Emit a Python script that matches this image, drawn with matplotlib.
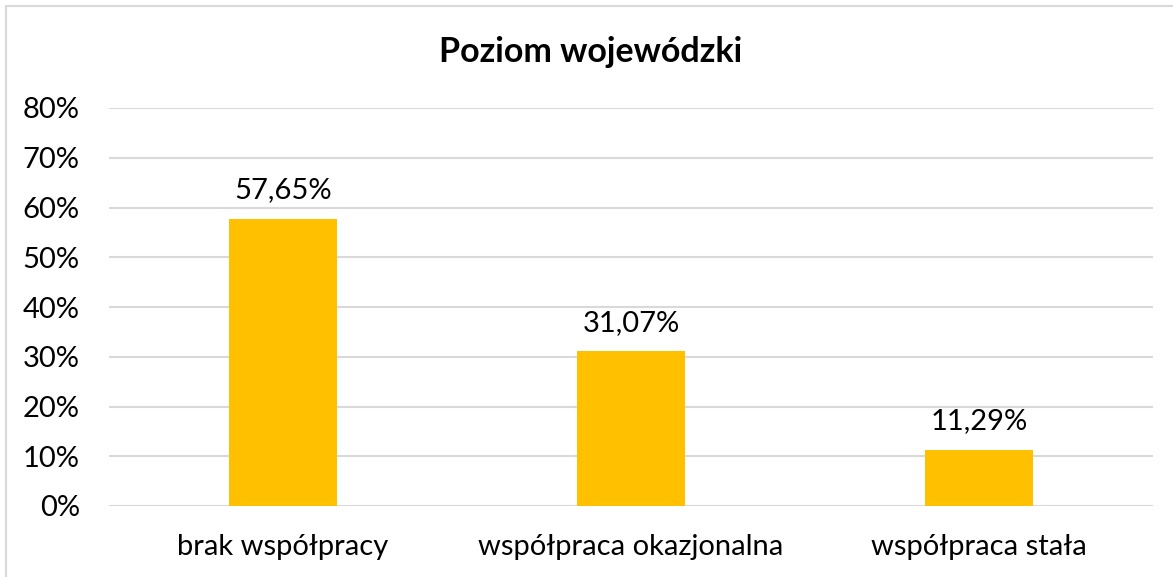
import matplotlib
matplotlib.use("Agg")
import matplotlib.pyplot as plt
from matplotlib.lines import Line2D

categories = ["brak współpracy", "współpraca okazjonalna", "współpraca stała"]
values = [57.65, 31.07, 11.29]
value_labels = ["57,65%", "31,07%", "11,29%"]
yticks = [0, 10, 20, 30, 40, 50, 60, 70, 80]
ytick_labels = [f"{t}%" for t in yticks]
title = "Poziom wojewódzki"

plt.rcParams['font.family'] = ['Lato', 'DejaVu Sans']

W, H = 1173, 577
fig = plt.figure(figsize=(W / 100, H / 100), dpi=100)
ax = fig.add_axes([109 / W, 71 / H, (1153 - 109) / W, (506 - 108) / H])

x = list(range(len(categories)))
bars = ax.bar(x, values, width=0.313, color="#FFC000", zorder=3)
ax.set_xlim(-0.5, len(categories) - 0.5)
ax.set_ylim(0, 80)
ax.set_yticks(yticks)
ax.set_yticklabels(ytick_labels)
ax.set_xticks(x)
ax.set_xticklabels(categories)
ax.tick_params(axis='y', length=0, pad=21, labelsize=21, labelcolor="#000000")
ax.tick_params(axis='x', length=0, pad=20, labelsize=21, labelcolor="#000000")
ax.grid(axis='y', color="#D9D9D9", linewidth=1.5, zorder=0)
for s in ax.spines.values():
    s.set_visible(False)

for xi, v, lab in zip(x, values, value_labels):
    ax.annotate(lab, (xi, v), xytext=(0, 15), textcoords="offset points",
                ha="center", va="baseline", fontsize=21, color="#000000")

fig.text(591 / W, 1 - 52 / H, title, ha="center", va="center",
         fontsize=24.5, fontweight="bold", color="#000000")

fig.add_artist(Line2D([6 / W, 6 / W], [0, 1 - 6 / H], transform=fig.transFigure,
                      color="#D9D9D9", linewidth=1.5))
fig.add_artist(Line2D([6 / W, 1], [1 - 6 / H, 1 - 6 / H], transform=fig.transFigure,
                      color="#D9D9D9", linewidth=1.5))

fig.savefig("out.png", dpi=100, facecolor="white")
